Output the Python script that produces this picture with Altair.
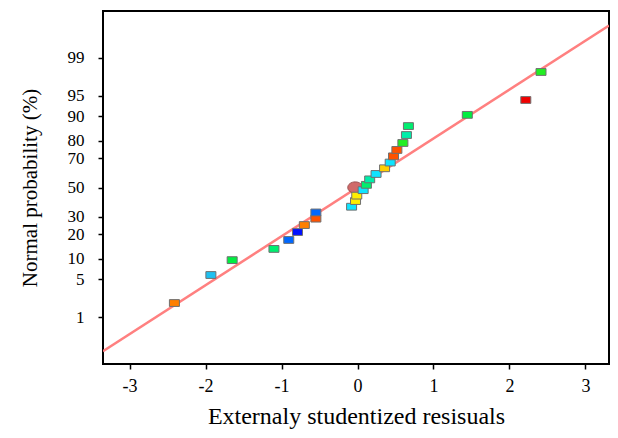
import altair as alt
import pandas as pd
from statistics import NormalDist

# Residual points
resid = [-2.41, -1.93, -1.65, -1.10, -0.905, -0.79, -0.70, -0.548, -0.548, -0.078,
         -0.026, -0.01, 0.074, 0.117, 0.16, 0.244, 0.356, 0.43, 0.474, 0.518,
         0.597, 0.644, 0.67, 1.445, 2.215, 2.415]
prob = [1.9, 5.8, 9.6, 13.5, 17.3, 21.2, 25.0, 28.8, 32.7, 36.5,
        40.4, 44.2, 48.1, 51.9, 55.8, 59.6, 63.5, 67.3, 71.2, 75.0,
        78.8, 82.7, 86.5, 90.4, 94.2, 98.1]
group = ["orange", "sky", "green", "green2", "blue", "navy", "orange", "red-orange", "blue", "cyan",
         "yellow", "yellow", "cyan", "green2", "aqua", "cyan", "gold", "cyan", "red-orange", "red-orange",
         "lime", "aqua", "green2", "green", "red", "lime"]
group_names = ["orange", "red-orange", "red", "yellow", "gold", "lime", "green", "green2",
               "aqua", "cyan", "sky", "blue", "navy"]
group_colors = ["#ff7f00", "#ff5200", "#f00000", "#ffee00", "#ffd000", "#22ee22", "#00ee40", "#00ee70",
                "#00eeaa", "#10e4ff", "#1ec0f0", "#0068ff", "#0010ff"]

# highlighted point
hl_x = [-0.03]
hl_p = [50.0]

# normal fit line end points
fit_x = [-3.35, 3.31]
fit_p = [0.164, 99.819]

# axis tick labels
y_ticks_pct = [1, 5, 10, 20, 30, 50, 70, 80, 90, 95, 99]
x_ticks = [-3, -2, -1, 0, 1, 2, 3]

y_tick_z = [NormalDist().inv_cdf(p / 100) for p in y_ticks_pct]

pts = pd.DataFrame({"x": resid, "p": prob, "g": group})
hl = pd.DataFrame({"x": hl_x, "p": hl_p})
fit = pd.DataFrame({"x": fit_x, "p": fit_p})

xs = alt.Scale(domain=[-3.35, 3.31], nice=False, zero=False)
ys = alt.Scale(domain=[-3.17, 3.17], nice=False, zero=False)

FONT = "Liberation Serif"

xaxis = alt.Axis(values=x_ticks, labelExpr="'' + datum.value", title="Externaly studentized resisuals",
                 grid=False, domain=False, tickSize=5, tickWidth=1.5, tickColor="black",
                 labelPadding=8, titlePadding=9, labelFont=FONT, titleFont=FONT,
                 labelFontSize=18, titleFontSize=24, labelColor="black", titleColor="black",
                 titleFontWeight="normal", labelOverlap=False, labelFlush=False)
yaxis = alt.Axis(values=y_tick_z, labelExpr="'' + round(cumulativeNormal(datum.value) * 100)",
                 title="Normal probability (%)", grid=False, domain=False, tickSize=5,
                 tickWidth=1.5, tickColor="black", labelPadding=14, titlePadding=27,
                 labelFont=FONT, titleFont=FONT, labelFontSize=17, titleFontSize=21,
                 labelColor="black", titleColor="black", titleFontWeight="normal",
                 labelOverlap=False, labelBound=False, labelFlush=False)

calc = "quantileNormal(datum.p / 100)"
X = alt.X("x:Q", scale=xs, axis=xaxis)
Y = alt.Y("z:Q", scale=ys, axis=yaxis)

line = alt.Chart(fit).mark_line(color="#ff8080", strokeWidth=2.5, clip=True).transform_calculate(
    z=calc
).encode(x=X, y=Y)

ellipse_path = "M-1,0 A1,0.75 0 1,0 1,0 A1,0.75 0 1,0 -1,0 Z"
rect_path = "M-1,-0.68 L1,-0.68 L1,0.68 L-1,0.68 Z"

hlmark = alt.Chart(hl).mark_point(shape=ellipse_path, size=225, filled=True, fill="#d06a6a",
                                  stroke="#9a5050", strokeWidth=1, opacity=1).transform_calculate(
    z=calc
).encode(x=X, y=Y)

points = alt.Chart(pts).mark_point(shape=rect_path, size=100, filled=True, opacity=1,
                                   stroke="#707070", strokeWidth=1).transform_calculate(
    z=calc
).encode(
    x=X, y=Y,
    fill=alt.Fill("g:N", scale=alt.Scale(domain=group_names, range=group_colors), legend=None),
)

chart = alt.layer(line, hlmark, points).properties(
    width=506, height=353,
    padding={"left": 95, "top": 3, "right": 1, "bottom": 66},
    autosize=alt.AutoSizeParams(type="none"),
    background="white",
).configure_view(stroke="black", strokeWidth=2).configure_axis(
    labelFont=FONT, titleFont=FONT, labelOverlap=False
)

chart.save("out.html", embed_options={"renderer": "svg", "actions": False})
